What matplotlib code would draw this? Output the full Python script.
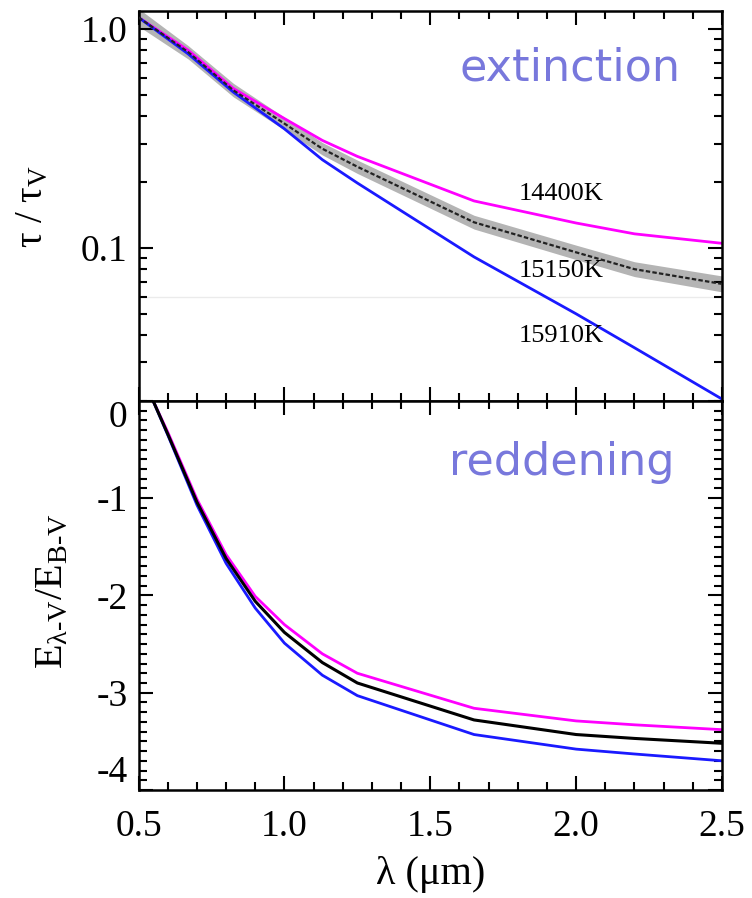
"""Extinction and reddening curves, tau/tau_V and E(lambda-V)/E(B-V) vs wavelength."""
import matplotlib
matplotlib.use("Agg")
import matplotlib.pyplot as plt
import matplotlib.ticker as mticker

plt.rcParams['font.family'] = ['Liberation Serif', 'DejaVu Serif']
plt.rcParams['mathtext.fontset'] = 'custom'
plt.rcParams['mathtext.rm'] = 'Liberation Serif'
plt.rcParams['mathtext.it'] = 'Liberation Serif:italic'
plt.rcParams['axes.unicode_minus'] = False

# top panel: tau / tau_V
lam_top = [0.5, 0.67, 0.825, 1.0, 1.13, 1.25, 1.65, 2.0, 2.2, 2.5]
tau_14400 = [1.13, 0.80, 0.535, 0.39, 0.31, 0.262, 0.164, 0.130, 0.116, 0.105]
tau_15150 = [1.13, 0.785, 0.525, 0.37, 0.284, 0.235, 0.131, 0.0955, 0.080, 0.0685]
tau_15910 = [1.13, 0.77, 0.515, 0.35, 0.253, 0.198, 0.091, 0.050, 0.035, 0.0204]
tau_band_hi = [1.24, 0.84, 0.565, 0.395, 0.303, 0.252, 0.141, 0.103, 0.0865, 0.0745]
tau_band_lo = [1.03, 0.73, 0.49, 0.346, 0.266, 0.219, 0.122, 0.0885, 0.074, 0.063]

# bottom panel: E(lambda-V)/E(B-V)
lam_bot = [0.55, 0.6, 0.7, 0.8, 0.9, 1.0, 1.13, 1.25, 1.65, 2.0, 2.2, 2.5]
red_14400 = [0, -0.32, -1.01, -1.58, -2.01, -2.30, -2.60, -2.80, -3.16, -3.29, -3.33, -3.38]
red_15150 = [0, -0.34, -1.04, -1.62, -2.06, -2.38, -2.69, -2.90, -3.28, -3.43, -3.47, -3.52]
red_15910 = [0, -0.35, -1.07, -1.67, -2.13, -2.49, -2.82, -3.03, -3.43, -3.58, -3.63, -3.70]

temps = ['14400K', '15150K', '15910K']
temp_pos = [(1.95, 0.177), (1.95, 0.0787), (1.95, 0.0397)]

MAG = '#ff00ff'
BLUE = '#1a1aff'
NOTE = '#7878dc'

fig = plt.figure(figsize=(7.52, 8.98), dpi=100)
ax1 = fig.add_axes([0.1843, 0.5535, 0.7758, 0.4343])
ax2 = fig.add_axes([0.1843, 0.1203, 0.7758, 0.4332])

# --- extinction ---
ax1.axhline(0.06, color='#ebebeb', lw=1, zorder=0)
ax1.fill_between(lam_top, tau_band_lo, tau_band_hi, color='#b4b4b4', lw=0, zorder=1)
ax1.plot(lam_top, tau_14400, color=MAG, lw=2, zorder=2)
ax1.plot(lam_top, tau_15910, color=BLUE, lw=2, zorder=2)
ax1.plot(lam_top, tau_15150, color='#222222', lw=1.6, ls=(0, (2, 1)), zorder=3)
ax1.set_yscale('log')
ax1.set_xlim(0.5, 2.5)
ax1.set_ylim(0.02, 1.21)
ax1.yaxis.set_major_locator(mticker.FixedLocator([0.1, 1.0]))
ax1.yaxis.set_major_formatter(mticker.FixedFormatter(['0.1', '1.0']))
ax1.yaxis.set_minor_locator(mticker.LogLocator(base=10, subs=range(2, 10)))
ax1.yaxis.set_minor_formatter(mticker.NullFormatter())
ax1.set_ylabel('τ / τ$_\\mathrm{V}$', fontsize=28)
ax1.yaxis.set_label_coords(-0.150, 0.5)
for t, (x, y) in zip(temps, temp_pos):
    ax1.text(x, y, t, fontsize=19, ha='center', va='center')
ax1.text(1.98, 0.667, 'extinction', fontsize=32, color=NOTE, family='DejaVu Sans',
         ha='center', va='center')

# --- reddening ---
ax2.plot(lam_bot, red_14400, color=MAG, lw=2)
ax2.plot(lam_bot, red_15910, color=BLUE, lw=2)
ax2.plot(lam_bot, red_15150, color='black', lw=2.2)
ax2.set_xlim(0.5, 2.5)
ax2.set_ylim(-4, 0)
ax2.yaxis.set_major_locator(mticker.FixedLocator([-4, -3, -2, -1, 0]))
ax2.yaxis.set_minor_locator(mticker.MultipleLocator(0.1))
ax2.set_ylabel('E$_{\\mathrm{λ\\text{-}V}}$/E$_\\mathrm{B\\text{-}V}$', fontsize=29)
ax2.yaxis.set_label_coords(-0.115, 0.51)
ax2.set_xlabel('λ (μm)', fontsize=29)
ax2.xaxis.set_label_coords(0.5, -0.17)
ax2.text(1.95, -0.63, 'reddening', fontsize=32, color=NOTE, family='DejaVu Sans',
         ha='center', va='center')

for ax in (ax1, ax2):
    ax.xaxis.set_major_locator(mticker.MultipleLocator(0.5))
    ax.xaxis.set_minor_locator(mticker.MultipleLocator(0.1))
    ax.xaxis.set_major_formatter(mticker.FormatStrFormatter('%.1f'))
    ax.tick_params(which='both', direction='in', top=True, right=True, width=1.5)
    ax.tick_params(which='major', length=10, labelsize=27)
    ax.tick_params(which='minor', length=6)
    ax.tick_params(axis='y', pad=8)
    ax.tick_params(axis='x', pad=14)
    for s in ax.spines.values():
        s.set_linewidth(1.8)

ax1.tick_params(axis='x', labelbottom=False)

# keep the end labels of the lower panel off the panel edges
ticks = ax2.yaxis.get_major_ticks()
ticks[0].label1.set_va('bottom')
ticks[-1].label1.set_va('top')

fig.savefig('out.png', dpi=100)
